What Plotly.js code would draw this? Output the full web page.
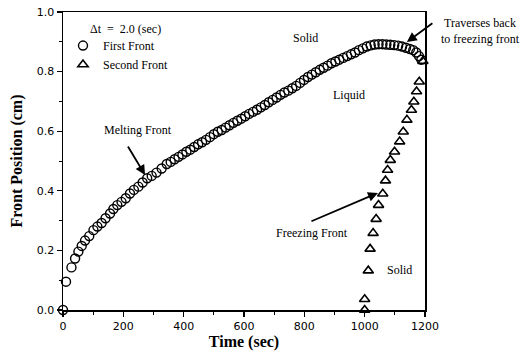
<!DOCTYPE html>
<html><head><meta charset="utf-8">
<script src="https://cdn.plot.ly/plotly-3.0.1.min.js"></script>
<style>html,body{margin:0;padding:0;background:#fff;}#chart{width:530px;height:356px;}</style>
</head><body><div id="chart"></div>
<script>
// First front (circles): time (sec) and position (cm)
const tFirst = [0, 10, 28, 40, 51, 62, 73, 87, 101, 114, 128, 141, 156, 167, 180, 194, 208, 222, 235, 250, 264, 279, 294, 310, 327, 344,
  357, 370, 383, 396, 409, 422, 435, 448, 461, 474,
  487, 500, 513, 526, 539, 552, 565, 578, 591, 604,
  617, 630, 643, 656, 669, 682, 695, 708, 721, 734,
  747, 760, 773, 786, 799, 812, 825, 838, 851, 864,
  877, 890, 903, 916, 929, 942, 955, 968, 981, 994,
  1007, 1020, 1033, 1046, 1059, 1072, 1085, 1098, 1111, 1124,
  1137, 1150, 1161, 1171, 1180, 1188];
const yFirst = [0, 0.095, 0.143, 0.173, 0.196, 0.215, 0.233, 0.248, 0.268, 0.280, 0.292, 0.308, 0.324, 0.339, 0.352, 0.363, 0.375, 0.391, 0.403, 0.414, 0.428, 0.442, 0.450, 0.461, 0.475, 0.490,
  0.497, 0.506, 0.514, 0.522, 0.531, 0.538, 0.547, 0.556, 0.563, 0.571,
  0.580, 0.590, 0.598, 0.604, 0.612, 0.620, 0.628, 0.635, 0.642, 0.650,
  0.658, 0.665, 0.672, 0.680, 0.688, 0.697, 0.705, 0.713, 0.722, 0.730,
  0.736, 0.744, 0.752, 0.762, 0.772, 0.782, 0.790, 0.798, 0.806, 0.813,
  0.820, 0.828, 0.834, 0.840, 0.846, 0.852, 0.858, 0.864, 0.872, 0.878,
  0.884, 0.888, 0.891, 0.892, 0.892, 0.891, 0.890, 0.889, 0.887, 0.884,
  0.880, 0.876, 0.872, 0.864, 0.852, 0.840];
// Second front (triangles)
const tSecond = [1000, 1000, 1012, 1018, 1028, 1038, 1046, 1060, 1069, 1076, 1085, 1099, 1116, 1128, 1140, 1155, 1163, 1172, 1181, 1193];
const ySecond = [0.0, 0.036, 0.132, 0.205, 0.258, 0.305, 0.352, 0.390, 0.434, 0.470, 0.503, 0.531, 0.565, 0.598, 0.638, 0.671, 0.699, 0.733, 0.766, 0.835];
const seriesNames = ['First Front', 'Second Front'];
const xTicks = [0, 200, 400, 600, 800, 1000, 1200];
const yTicks = [0.0, 0.2, 0.4, 0.6, 0.8, 1.0];
const yTickText = ['0.0', '0.2', '0.4', '0.6', '0.8', '1.0'];

const serif = 'Liberation Serif, Times New Roman, serif';
const sans = 'DejaVu Sans, Arial, sans-serif';

const traces = [
  {x: tFirst, y: yFirst, name: seriesNames[0], type: 'scatter', mode: 'markers', cliponaxis: false,
   marker: {symbol: 'circle-open', size: 9, color: '#000', line: {width: 1.4, color: '#000'}}},
  {x: tSecond, y: ySecond, name: seriesNames[1], type: 'scatter', mode: 'markers', cliponaxis: false,
   marker: {symbol: 'triangle-up-open', size: 9, color: '#000', line: {width: 1.6, color: '#000'}}}
];

const ann = (x, y, text, extra) => Object.assign({x: x, y: y, xref: 'x', yref: 'y', text: text, showarrow: false,
  xanchor: 'center', yanchor: 'middle', font: {family: serif, size: 12, color: '#000'}}, extra || {});
const arrow = (x, y, ax, ay) => ({x: x, y: y, xref: 'x', yref: 'y', text: '', showarrow: true, ax: ax, ay: ay,
  arrowhead: 2, arrowsize: 1.1, arrowwidth: 1.8, arrowcolor: '#000'});

const layout = {
  width: 530, height: 356,
  margin: {l: 63, r: 105, t: 12, b: 46},
  paper_bgcolor: '#fff', plot_bgcolor: '#fff',
  showlegend: true,
  legend: {x: 0.0, y: 0.936, xanchor: 'left', yanchor: 'top', bgcolor: 'rgba(0,0,0,0)',
           font: {family: serif, size: 12, color: '#000'}, tracegroupgap: 0, itemwidth: 30},
  xaxis: {range: [0, 1200], tickvals: xTicks, ticks: 'outside', ticklen: 5, tickwidth: 1.2, tickcolor: '#000',
          showline: true, linecolor: '#000', linewidth: 1.5, mirror: true, showgrid: false, zeroline: false,
          tickfont: {family: sans, size: 11, color: '#000'},
          minor: {dtick: 100, ticks: 'outside', ticklen: 3, tickcolor: '#000', tickwidth: 1},
          title: {text: 'Time (sec)', font: {family: serif, size: 16, color: '#000', weight: 'bold'}, standoff: 2}},
  yaxis: {range: [0, 1.0], tickvals: yTicks, ticktext: yTickText, ticks: 'outside', ticklen: 5, tickwidth: 1.2, tickcolor: '#000',
          showline: true, linecolor: '#000', linewidth: 1.5, mirror: true, showgrid: false, zeroline: false,
          tickfont: {family: sans, size: 11, color: '#000'},
          minor: {dtick: 0.1, ticks: 'outside', ticklen: 3, tickcolor: '#000', tickwidth: 1},
          title: {text: 'Front Position (cm)', font: {family: serif, size: 16, color: '#000', weight: 'bold'}, standoff: 10}},
  annotations: [
    {x: 0.07, y: 0.943, xref: 'paper', yref: 'paper', xanchor: 'left', yanchor: 'middle', showarrow: false,
     text: '\u0394t  =  2.0 (sec)', font: {family: serif, size: 12, color: '#000'}},
    ann(805, 0.913, 'Solid'),
    ann(948, 0.721, 'Liquid'),
    ann(1117, 0.134, 'Solid'),
    ann(247, 0.604, 'Melting Front'),
    ann(826, 0.258, 'Freezing Front'),
    {x: 1.152, y: 0.936, xref: 'paper', yref: 'paper', xanchor: 'center', yanchor: 'middle', showarrow: false, align: 'center',
     text: 'Traverses back<br>to freezing front', font: {family: serif, size: 12, color: '#000'}},
    arrow(272, 0.453, -18, -30),
    arrow(1044, 0.393, -68, 29),
    arrow(1140, 0.899, 27, -20)
  ]
};

Plotly.newPlot('chart', traces, layout, {staticPlot: true, displayModeBar: false});
</script>
</body></html>
